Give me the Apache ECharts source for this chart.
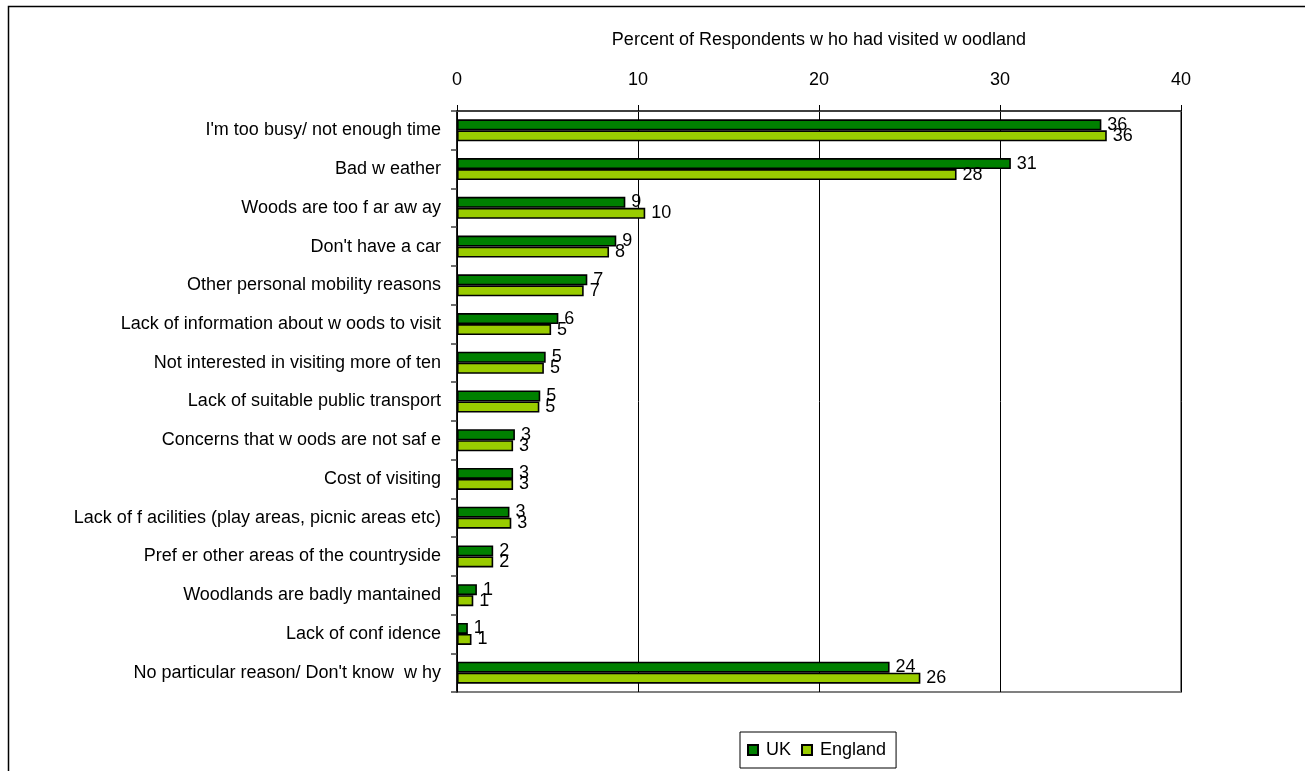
<!DOCTYPE html>
<html>
<head>
<meta charset="utf-8">
<script src="https://cdn.jsdelivr.net/npm/echarts@6/dist/echarts.min.js"></script>
<style>
  html, body { margin: 0; padding: 0; background: #fff; }
  #chart { width: 1305px; height: 771px; }
</style>
</head>
<body>
<div id="chart"></div>
<script>
// categories, top to bottom
const reasons = [
  "I'm too busy/ not enough time",
  'Bad w eather',
  'Woods are too f ar aw ay',
  "Don't have a car",
  'Other personal mobility reasons',
  'Lack of information about w oods to visit',
  'Not interested in visiting more of ten',
  'Lack of suitable public transport',
  'Concerns that w oods are not saf e',
  'Cost of visiting',
  'Lack of f acilities (play areas, picnic areas etc)',
  'Pref er other areas of the countryside',
  'Woodlands are badly mantained',
  'Lack of conf idence',
  "No particular reason/ Don't know  w hy"
]
const ukValues = [35.6, 30.6, 9.3, 8.8, 7.2, 5.6, 4.9, 4.6, 3.2, 3.1, 2.9, 2.0, 1.1, 0.6, 23.9]
const englandValues = [35.9, 27.6, 10.4, 8.4, 7.0, 5.2, 4.8, 4.55, 3.1, 3.1, 3.0, 2.0, 0.9, 0.8, 25.6]
const xTicks = [0, 10, 20, 30, 40]
const axisTitle = 'Percent of Respondents w ho had visited w oodland'

const font = "'Liberation Sans', Arial, sans-serif"

const chart = echarts.init(document.getElementById('chart'))

function barSeries (name, data, color) {
  return {
    name: name,
    type: 'bar',
    data: data,
    barWidth: 11,
    barGap: '0%',
    itemStyle: {
      color: color,
      borderColor: '#000',
      borderWidth: 1.6
    },
    label: {
      show: true,
      position: 'right',
      distance: 6,
      fontFamily: font,
      fontSize: 18,
      color: '#000',
      formatter: p => Math.round(p.value)
    }
  }
}

const option = {
  animation: false,
  backgroundColor: '#fff',
  graphic: [
    {
      type: 'rect',
      left: 6,
      top: 4,
      shape: { width: 1400, height: 900 },
      style: { fill: 'none', stroke: '#000', lineWidth: 1.5 },
      silent: true
    }
  ],
  legend: {
    left: 740,
    top: 732,
    orient: 'horizontal',
    padding: [9, 10, 9, 7],
    borderColor: '#000',
    borderWidth: 1,
    itemWidth: 10,
    itemHeight: 10,
    itemGap: 10,
    icon: 'rect',
    textStyle: {
      fontFamily: font,
      fontSize: 18,
      color: '#000',
      padding: [0, 0, 0, 3]
    },
    data: ['UK', 'England']
  },
  grid: {
    left: 457,
    top: 111,
    width: 724,
    height: 581,
    show: true,
    borderColor: '#808080',
    borderWidth: 2,
    backgroundColor: '#fff'
  },
  xAxis: {
    type: 'value',
    position: 'top',
    name: axisTitle,
    nameLocation: 'middle',
    nameGap: 62,
    nameTextStyle: {
      fontFamily: font,
      fontSize: 18,
      color: '#000'
    },
    min: xTicks[0],
    max: xTicks[xTicks.length - 1],
    interval: 10,
    axisLine: { show: true, lineStyle: { color: '#404040', width: 2 } },
    axisTick: { show: true, length: 6, lineStyle: { color: '#000' } },
    axisLabel: {
      margin: 22,
      fontFamily: font,
      fontSize: 18,
      color: '#000'
    },
    splitLine: { show: true, lineStyle: { color: '#000', width: 1 } }
  },
  yAxis: {
    type: 'category',
    inverse: true,
    data: reasons,
    axisLine: { show: true, lineStyle: { color: '#000', width: 1.5 } },
    axisTick: { show: true, length: 6, lineStyle: { color: '#404040', width: 1.5 } },
    axisLabel: {
      margin: 16,
      fontFamily: font,
      fontSize: 18,
      color: '#000'
    }
  },
  series: [
    barSeries('UK', ukValues, '#008000'),
    barSeries('England', englandValues, '#99CC00')
  ]
}

chart.setOption(option)
</script>
</body>
</html>
